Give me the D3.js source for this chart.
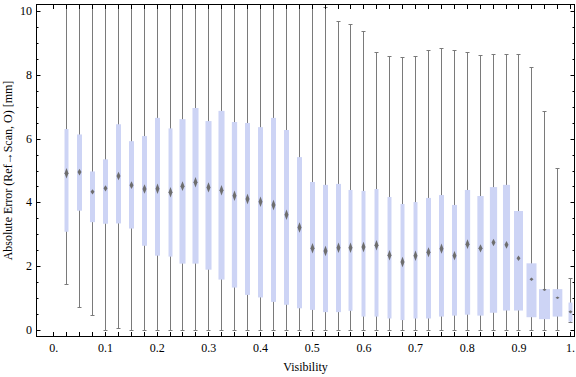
<!DOCTYPE html>
<html>
<head>
<meta charset="utf-8">
<script src="https://cdn.jsdelivr.net/npm/d3@7"></script>
<style>
  body { margin: 0; background: #fff; }
  svg { display: block; font-family: "Liberation Serif", "Times New Roman", serif; }
</style>
</head>
<body>
<svg id="chart" width="576" height="377"></svg>
<script>
// Visibility bins (category centres)
const visibility = [
  0.025, 0.05, 0.075, 0.1, 0.125, 0.15, 0.175, 0.2, 0.225, 0.25,
  0.275, 0.3, 0.325, 0.35, 0.375, 0.4, 0.425, 0.45, 0.475, 0.5,
  0.525, 0.55, 0.575, 0.6, 0.625, 0.65, 0.675, 0.7, 0.725, 0.75,
  0.775, 0.8, 0.825, 0.85, 0.875, 0.9, 0.925, 0.95, 0.975, 1.0
];

// Box-whisker statistics, absolute error in mm
const minVal = [
  1.43, 0.72, 0.47, 0.0, 0.05, 0.0, 0.0, 0.0, 0.0, 0.0,
  0.0, 0.0, 0.0, 0.0, 0.0, 0.0, 0.0, 0.0, 0.0, 0.0,
  0.0, 0.0, 0.0, 0.0, 0.0, 0.0, 0.0, 0.0, 0.0, 0.0,
  0.0, 0.0, 0.0, 0.0, 0.0, 0.0, 0.0, 0.0, 0.0, 0.25
];
const q1 = [
  3.08, 3.74, 3.38, 3.33, 3.34, 3.18, 2.64, 2.33, 2.30, 2.08,
  2.08, 1.89, 1.58, 1.33, 1.10, 1.02, 0.88, 0.79, 0.68, 0.63,
  0.56, 0.56, 0.60, 0.42, 0.42, 0.36, 0.31, 0.36, 0.36, 0.42,
  0.45, 0.48, 0.45, 0.54, 0.61, 0.61, 0.40, 0.34, 0.42, 0.26
];
const median = [
  4.91, 4.95, 4.33, 4.44, 4.83, 4.54, 4.42, 4.43, 4.32, 4.51,
  4.63, 4.47, 4.38, 4.21, 4.11, 4.02, 3.92, 3.61, 3.21, 2.56,
  2.48, 2.58, 2.58, 2.60, 2.66, 2.34, 2.13, 2.33, 2.44, 2.55,
  2.33, 2.69, 2.56, 2.74, 2.67, 2.25, 1.59, 1.26, 1.01, 0.57
];
const q3 = [
  6.30, 6.13, 4.97, 5.35, 6.45, 5.92, 6.08, 6.65, 6.32, 6.61,
  6.96, 6.55, 6.87, 6.52, 6.49, 6.36, 6.65, 6.27, 5.42, 4.64,
  4.55, 4.58, 4.39, 4.36, 4.42, 4.17, 3.95, 4.01, 4.14, 4.23,
  3.92, 4.39, 4.20, 4.48, 4.55, 3.73, 2.09, 1.28, 1.28, 0.86
];
const maxVal = [
  11, 11, 11, 11, 11, 11, 11, 11, 11, 11,
  11, 11, 11, 11, 11, 11, 11, 11, 11, 11,
  10.14, 9.68, 9.58, 9.36, 8.70, 8.58, 8.55, 8.58, 8.77, 8.83,
  8.77, 8.70, 8.61, 8.64, 8.64, 8.64, 8.23, 6.86, 5.07, 1.62
];
// Relative box weight (box widths differ per bin)
const boxWeight = [
  0.36, 0.45, 0.45, 0.45, 0.45, 0.45, 0.45, 0.45, 0.36, 0.55,
  0.55, 0.55, 0.55, 0.48, 0.45, 0.45, 0.45, 0.45, 0.45, 0.45,
  0.45, 0.45, 0.36, 0.36, 0.36, 0.36, 0.36, 0.36, 0.45, 0.45,
  0.45, 0.48, 0.57, 0.66, 0.64, 0.82, 0.91, 1.0, 0.88, 0.36
];

const xTicks = [0, 0.1, 0.2, 0.3, 0.4, 0.5, 0.6, 0.7, 0.8, 0.9, 1.0];
const xTickLabels = ["0.", "0.1", "0.2", "0.3", "0.4", "0.5", "0.6", "0.7", "0.8", "0.9", "1."];
const yTicks = [0, 2, 4, 6, 8, 10];

const rows = visibility.map((v, i) => ({
  v, min: minVal[i], q1: q1[i], med: median[i], q3: q3[i], max: maxVal[i], w: boxWeight[i]
}));

const svg = d3.select("#chart");
const padL = 36, padR = 575, padT = 4, padB = 337;

const x = d3.scaleLinear().domain([-0.0344, 1.0085]).range([padL, padR]);
const y = d3.scaleLinear().domain([-0.22, 10.22]).range([padB, padT]);
const bw = d3.scaleLinear().domain([0, 1]).range([0, 11]);
const xc = v => Math.floor(x(v)) + 0.5;   // crisp whisker position

svg.append("defs").call(defs => {
  defs.append("clipPath").attr("id", "plot")
    .append("rect").attr("x", padL).attr("y", padT)
    .attr("width", padR - padL).attr("height", padB - padT);
  defs.append("filter").attr("id", "soft")
    .attr("x", "-50%").attr("y", "-50%").attr("width", "200%").attr("height", "200%")
    .append("feGaussianBlur").attr("stdDeviation", 0.6);
});

const plot = svg.append("g").attr("clip-path", "url(#plot)");

// whiskers (min to max) with caps
const g = plot.selectAll("g.bw").data(rows).join("g").attr("class", "bw");
g.append("line")
  .attr("x1", d => xc(d.v)).attr("x2", d => xc(d.v))
  .attr("y1", d => y(d.min)).attr("y2", d => y(d.max))
  .attr("stroke", "#7a7a7a").attr("stroke-width", 1);
g.each(function (d) {
  const s = d3.select(this);
  [d.min, d.max].forEach(val => {
    s.append("line")
      .attr("x1", xc(d.v) - 2).attr("x2", xc(d.v) + 2)
      .attr("y1", Math.round(y(val)) + 0.5).attr("y2", Math.round(y(val)) + 0.5)
      .attr("stroke", "#7a7a7a").attr("stroke-width", 1);
  });
});

// boxes
g.append("rect")
  .attr("x", d => xc(d.v) - bw(d.w) / 2)
  .attr("width", d => bw(d.w))
  .attr("y", d => y(d.q3))
  .attr("height", d => y(d.q1) - y(d.q3))
  .attr("fill", "#cdd4f5");

// median diamonds
g.append("path")
  .attr("d", d => {
    const cx = xc(d.v), cy = y(d.med);
    const ratio = (y(d.q1) - y(d.q3)) / bw(d.w);
    const h = Math.max(2, Math.min(10.5, 1.5 + 0.35 * ratio)) / 2;
    const hw = 2;
    return `M${cx},${cy - h}L${cx + hw},${cy}L${cx},${cy + h}L${cx - hw},${cy}Z`;
  })
  .attr("fill", "#6e6e6e")
  .attr("filter", "url(#soft)");

// frame
const axes = svg.append("g").attr("stroke", "#000").attr("stroke-width", 1);
axes.append("rect")
  .attr("x", padL + 0.5).attr("y", padT + 0.5)
  .attr("width", padR - padL - 1).attr("height", padB - padT - 1)
  .attr("fill", "none");

// x ticks on bottom and top, every bin
const xMinor = d3.range(0, 41).map(i => i * 0.025);
xMinor.forEach(v => {
  const px = xc(v);
  axes.append("line").attr("x1", px).attr("x2", px).attr("y1", padB).attr("y2", padB - 5);
  axes.append("line").attr("x1", px).attr("x2", px).attr("y1", padT).attr("y2", padT + 5);
});

// y ticks left and right
const yMinor = d3.range(0, 21).map(i => i * 0.5);
yMinor.forEach(v => {
  const len = (v % 2 === 0) ? 4.5 : 2.5;
  const py = Math.round(y(v)) + 0.5;
  axes.append("line").attr("x1", padL).attr("x2", padL + len).attr("y1", py).attr("y2", py);
  axes.append("line").attr("x1", padR).attr("x2", padR - len).attr("y1", py).attr("y2", py);
});

// tick labels
svg.append("g").selectAll("text").data(xTicks).join("text")
  .attr("x", d => x(d)).attr("y", 352)
  .attr("text-anchor", "middle").attr("font-size", 12)
  .text((d, i) => xTickLabels[i]);

svg.append("g").selectAll("text").data(yTicks).join("text")
  .attr("x", 32).attr("y", d => y(d) + 4)
  .attr("text-anchor", "end").attr("font-size", 12)
  .text(d => d);

// axis titles
svg.append("text")
  .attr("x", (padL + padR) / 2).attr("y", 371)
  .attr("text-anchor", "middle").attr("font-size", 12)
  .text("Visibility");

svg.append("text")
  .attr("transform", `translate(12,${(padT + padB) / 2}) rotate(-90)`)
  .attr("text-anchor", "middle").attr("font-size", 12)
  .text("Absolute Error (Ref\u2192Scan, O) [mm]");
</script>
</body>
</html>
